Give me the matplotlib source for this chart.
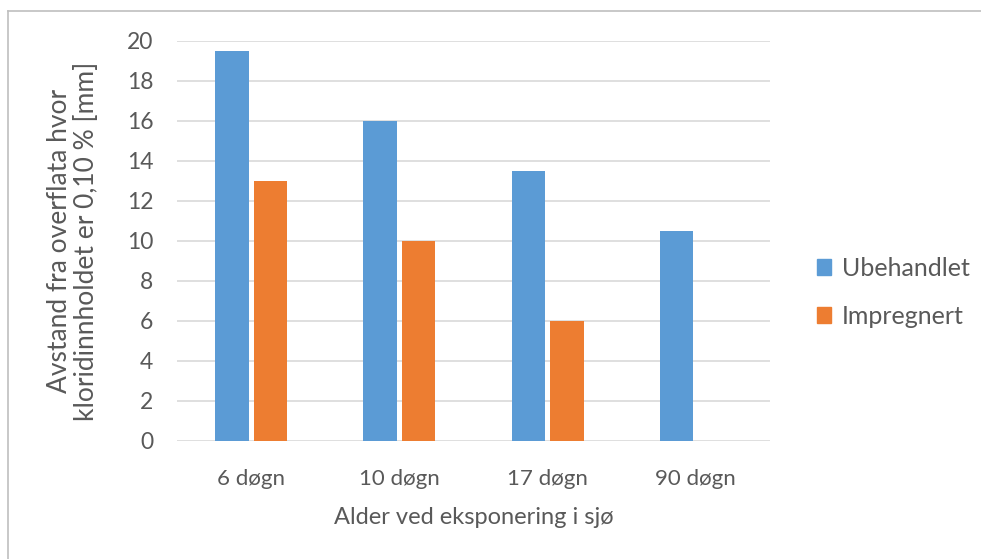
import matplotlib.pyplot as plt
import numpy as np
from matplotlib.patches import Patch
from matplotlib.lines import Line2D

# Data
kategorier = ['6 døgn', '10 døgn', '17 døgn', '90 døgn']
ubehandlet = [19.5, 16, 13.5, 10.5]
impregnert = [13, 10, 6, np.nan]

blaa = '#5b9bd5'
oransje = '#ed7d31'
tekst = '#595959'

plt.rcParams['font.family'] = ['Lato', 'DejaVu Sans']

fig = plt.figure(figsize=(9.81, 5.59), dpi=100)
ax = fig.add_axes([0.1804, 0.2111, 0.6045, 0.7156])

x = np.arange(len(kategorier))
b = 0.225
g = 0.035
ax.bar(x - (b + g) / 2, ubehandlet, b, color=blaa, zorder=3, label='Ubehandlet')
ax.bar(x + (b + g) / 2, impregnert, b, color=oransje, zorder=3, label='Impregnert')

ax.set_xlim(-0.5, len(kategorier) - 0.5)
ax.set_ylim(0, 20)
ax.set_yticks(range(0, 21, 2))
ax.set_xticks(x)
ax.set_xticklabels(kategorier)
ax.yaxis.grid(True, color='#d9d9d9', linewidth=1.2, zorder=0)
for s in ax.spines.values():
    s.set_visible(False)
ax.tick_params(axis='both', length=0, labelcolor=tekst)
ax.tick_params(axis='y', pad=17, labelsize=16.5)
ax.tick_params(axis='x', pad=20, labelsize=16)

ax.set_xlabel('Alder ved eksponering i sjø', fontsize=17, color=tekst, labelpad=13)
ax.set_ylabel('Avstand fra overflata hvor\nkloridinnholdet er 0,10 % [mm]',
              fontsize=19, color=tekst, labelpad=20, linespacing=1.08)

handles = [Patch(color=blaa, label='Ubehandlet'), Patch(color=oransje, label='Impregnert')]
fig.legend(handles=handles, loc='center left', bbox_to_anchor=(0.81, 0.477),
           frameon=False, fontsize=18, labelcolor=tekst, handlelength=0.55,
           handleheight=0.55, handletextpad=0.45, labelspacing=1.0)

# ramme rundt diagrammet
fig.add_artist(Line2D([0.0082, 0.0082], [0, 0.98], color='#bfbfbf', lw=1.2))
fig.add_artist(Line2D([0.0082, 1], [0.98, 0.98], color='#bfbfbf', lw=1.2))

fig.savefig('out.png', dpi=100)
